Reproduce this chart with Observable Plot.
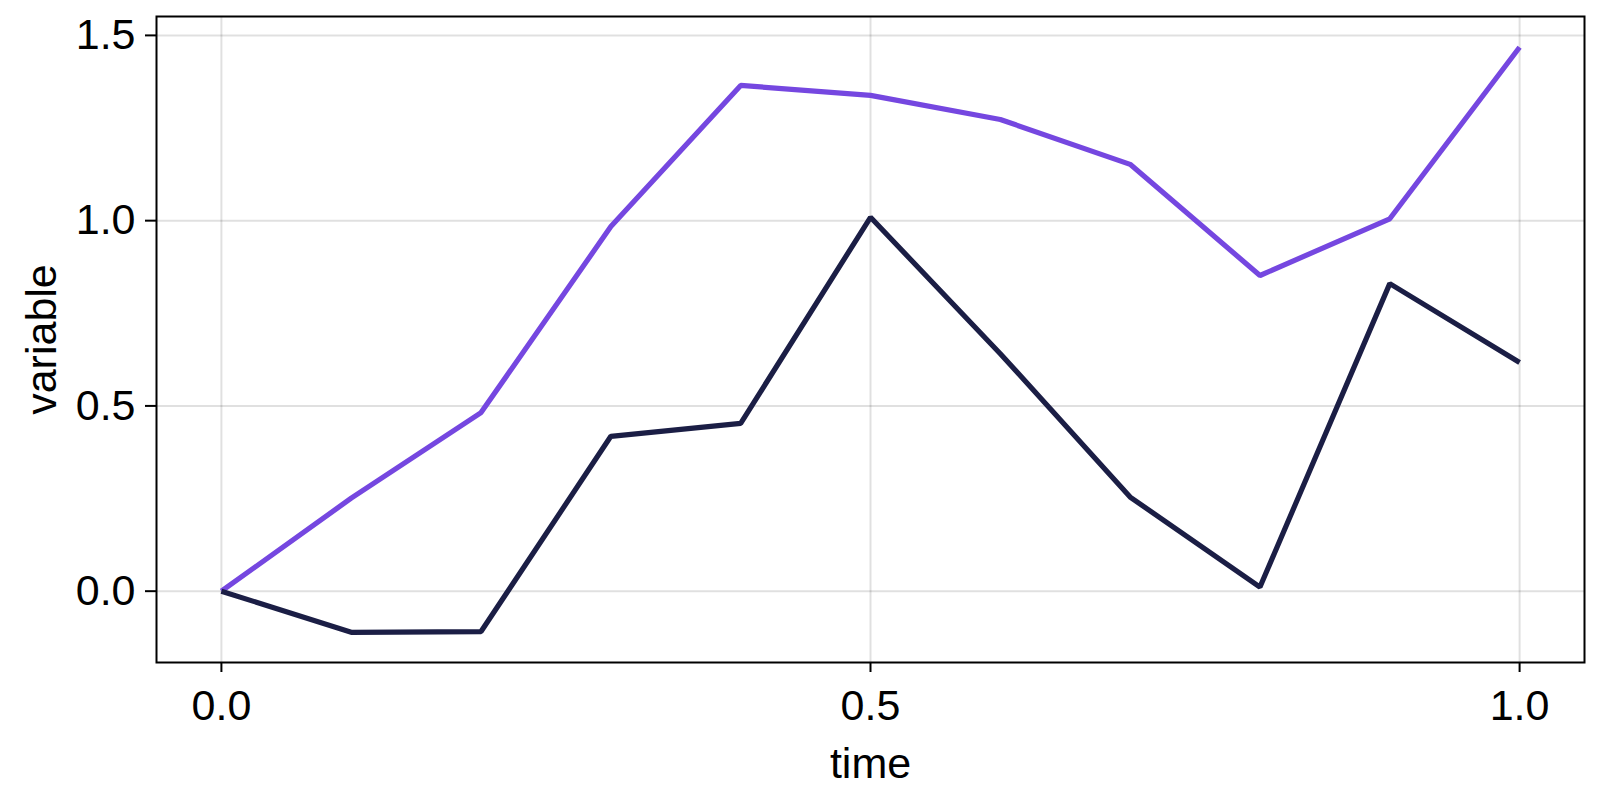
<!DOCTYPE html>
<html>
<head>
<meta charset="utf-8">
<script src="https://cdn.jsdelivr.net/npm/d3@7"></script>
<script src="https://cdn.jsdelivr.net/npm/@observablehq/plot@0.6"></script>
<style>
  html, body { margin: 0; padding: 0; background: #fff; }
  #chart svg { display: block; }
</style>
</head>
<body>
<div id="chart"></div>
<script>
const time = [0, 0.1, 0.2, 0.3, 0.4, 0.5, 0.6, 0.7, 0.8, 0.9, 1.0];
const seriesA = [0, 0.251, 0.482, 0.984, 1.365, 1.338, 1.273, 1.152, 0.852, 1.005, 1.468];
const seriesB = [0, -0.111, -0.109, 0.418, 0.453, 1.009, 0.641, 0.254, 0.011, 0.830, 0.617];
const xTicks = [0, 0.5, 1.0];
const yTicks = [0, 0.5, 1.0, 1.5];
const xLabel = "time";
const yLabel = "variable";

const dataA = time.map((t, i) => ({time: t, value: seriesA[i]}));
const dataB = time.map((t, i) => ({time: t, value: seriesB[i]}));

const font = "'Liberation Sans', Arial, Helvetica, sans-serif";
const fs = 43;

const chart = Plot.plot({
  width: 1600,
  height: 800,
  marginLeft: 156,
  marginRight: 16,
  marginTop: 16,
  marginBottom: 138,
  style: {fontFamily: font, fontSize: fs + "px", background: "#fff", color: "#000"},
  x: {domain: [-0.05, 1.05]},
  y: {domain: [-0.1925, 1.551]},
  marks: [
    Plot.gridX(xTicks, {stroke: "#000", strokeOpacity: 0.12, strokeWidth: 2}),
    Plot.gridY(yTicks, {stroke: "#000", strokeOpacity: 0.12, strokeWidth: 2}),
    Plot.lineY(dataA, {x: "time", y: "value", stroke: "#7547e0", strokeWidth: 5.2, strokeLinejoin: "miter", strokeLinecap: "butt"}),
    Plot.lineY(dataB, {x: "time", y: "value", stroke: "#1b1e45", strokeWidth: 5.2, strokeLinejoin: "miter", strokeLinecap: "butt"}),
    Plot.frame({stroke: "#000", strokeWidth: 2}),
    Plot.axisX(xTicks, {tickFormat: d3.format(".1f"), tickSize: 10, tickPadding: 17, strokeWidth: 2, fontSize: fs, label: null, fill: "#000"}),
    Plot.axisY(yTicks, {tickFormat: d3.format(".1f"), tickSize: 11, tickPadding: 10, strokeWidth: 2, fontSize: fs, label: null, fill: "#000"}),
    Plot.text([xLabel], {frameAnchor: "bottom", dy: 115, lineAnchor: "bottom", textAnchor: "middle", fontSize: fs, fill: "#000"}),
    Plot.text([yLabel], {frameAnchor: "left", dx: -101, rotate: -90, lineAnchor: "bottom", textAnchor: "middle", fontSize: fs, fill: "#000"})
  ]
});
document.getElementById("chart").appendChild(chart);
</script>
</body>
</html>
